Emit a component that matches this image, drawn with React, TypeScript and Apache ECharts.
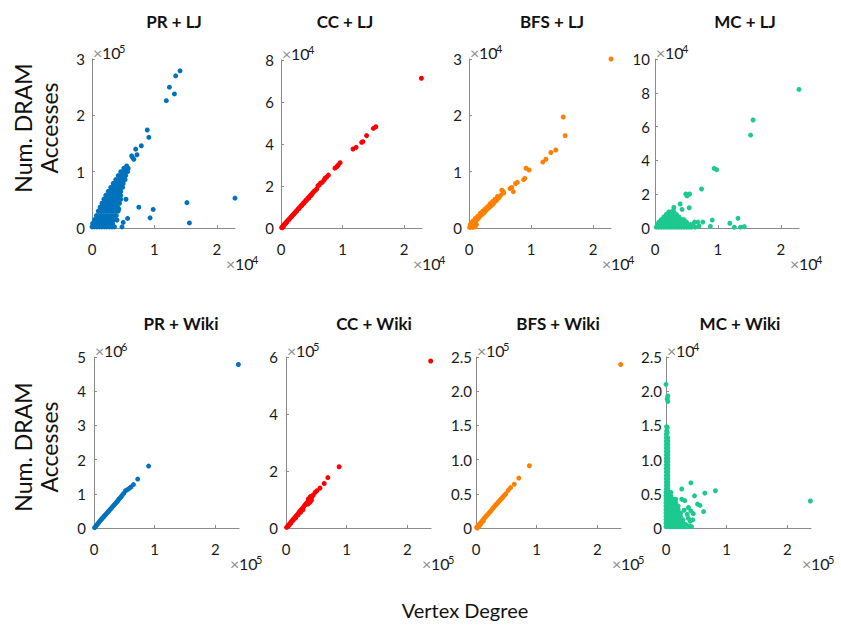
import React, { useEffect, useRef } from 'react';
import * as echarts from 'echarts';

const FONT = 'Lato, "Noto Sans", sans-serif';

const titles = ['PR + LJ', 'CC + LJ', 'BFS + LJ', 'MC + LJ', 'PR + Wiki', 'CC + Wiki', 'BFS + Wiki', 'MC + Wiki'];
const colors = ['#0072BD', '#FF0000', '#FF8000', '#1DC98E', '#0072BD', '#FF0000', '#FF8000', '#1DC98E'];
const xExp = [4, 4, 4, 4, 5, 5, 5, 5];
const yExp = [5, 4, 4, 4, 6, 5, 5, 4];
const xMax = [2.29, 2.29, 2.29, 2.29, 2.39, 2.39, 2.39, 2.39];
const xTicks = [0, 1, 2];
const yMax = [3, 8, 3, 10, 5, 6, 2.5, 2.5];
const yStep = [1, 2, 1, 2, 1, 2, 0.5, 0.5];
const yOneDecimal = [false, false, false, false, false, false, true, true];

// values in axis units (mantissa; multiply by 10^exp)
const prLj = [
  [1.41, 2.79], [1.34, 2.70], [1.24, 2.50], [1.32, 2.38], [1.19, 2.26], [0.885, 1.74], [0.91, 1.61], [0.79, 1.46],
  [0.70, 1.40], [0.72, 1.30], [0.635, 1.28], [0.65, 1.25], [0.67, 1.22],
  [2.29, 0.53], [1.52, 0.45], [1.56, 0.09], [0.98, 0.33], [0.93, 0.18], [0.75, 0.37], [0.57, 0.17], [0.544, 0.51],
  [0.43, 0.34], [0.40, 0.14], [0.50, 0.10], [0.48, 0.02],
  [0.00, 0.02], [0.04, 0.02], [0.08, 0.02], [0.12, 0.02], [0.16, 0.02], [0.20, 0.02], [0.24, 0.02], [0.28, 0.02], [0.32, 0.02], [0.36, 0.02],
  [0.01, 0.08], [0.05, 0.08], [0.09, 0.08], [0.13, 0.08], [0.17, 0.08], [0.21, 0.08], [0.25, 0.08], [0.29, 0.08], [0.33, 0.08],
  [0.04, 0.15], [0.08, 0.15], [0.12, 0.15], [0.16, 0.15], [0.20, 0.15], [0.24, 0.15], [0.28, 0.15], [0.32, 0.15], [0.36, 0.15],
  [0.07, 0.22], [0.11, 0.22], [0.15, 0.22], [0.19, 0.22], [0.23, 0.22], [0.27, 0.22], [0.31, 0.22], [0.35, 0.22], [0.39, 0.22],
  [0.10, 0.30], [0.14, 0.30], [0.18, 0.30], [0.22, 0.30], [0.26, 0.30], [0.30, 0.30], [0.34, 0.30], [0.38, 0.30], [0.42, 0.30],
  [0.13, 0.37], [0.17, 0.37], [0.21, 0.37], [0.25, 0.37], [0.29, 0.37], [0.33, 0.37], [0.37, 0.37], [0.41, 0.37],
  [0.16, 0.44], [0.20, 0.44], [0.24, 0.44], [0.28, 0.44], [0.32, 0.44], [0.36, 0.44], [0.40, 0.44], [0.44, 0.44],
  [0.19, 0.51], [0.23, 0.51], [0.27, 0.51], [0.31, 0.51], [0.35, 0.51], [0.39, 0.51], [0.43, 0.51], [0.46, 0.51],
  [0.22, 0.58], [0.26, 0.58], [0.30, 0.58], [0.34, 0.58], [0.38, 0.58], [0.42, 0.58], [0.46, 0.58],
  [0.26, 0.65], [0.30, 0.65], [0.34, 0.65], [0.38, 0.65], [0.42, 0.65], [0.46, 0.65],
  [0.30, 0.72], [0.34, 0.72], [0.38, 0.72], [0.42, 0.72], [0.46, 0.72], [0.49, 0.72],
  [0.34, 0.79], [0.38, 0.79], [0.42, 0.79], [0.46, 0.79], [0.50, 0.79],
  [0.38, 0.86], [0.42, 0.86], [0.46, 0.86], [0.50, 0.86], [0.53, 0.86],
  [0.42, 0.93], [0.46, 0.93], [0.50, 0.93], [0.54, 0.93],
  [0.46, 1.00], [0.50, 1.00], [0.54, 1.00], [0.57, 1.00],
  [0.51, 1.06], [0.55, 1.06], [0.58, 1.06], [0.555, 1.10],
];

const ccLj = [
  [2.28, 7.13], [1.54, 4.82], [1.50, 4.74], [1.39, 4.40], [1.33, 4.11], [1.31, 4.08], [1.22, 3.84], [1.17, 3.76],
  [0.96, 3.11], [0.93, 3.00], [0.91, 2.93], [0.876, 2.85], [0.77, 2.52], [0.74, 2.42], [0.715, 2.37], [0.70, 2.28],
  [0.67, 2.18], [0.64, 2.13], [0.62, 2.04], [0.60, 2.02],
  [0.01, 0.02], [0.02, 0.05], [0.04, 0.12], [0.06, 0.19], [0.08, 0.25], [0.10, 0.32], [0.12, 0.39], [0.14, 0.45],
  [0.16, 0.52], [0.18, 0.58], [0.20, 0.65], [0.22, 0.71], [0.24, 0.78], [0.26, 0.84], [0.28, 0.91], [0.30, 0.97],
  [0.32, 1.04], [0.34, 1.10], [0.36, 1.17], [0.38, 1.23], [0.40, 1.30], [0.42, 1.36], [0.44, 1.43], [0.46, 1.49],
  [0.48, 1.56], [0.50, 1.62], [0.52, 1.69], [0.54, 1.75], [0.56, 1.80], [0.58, 1.86],
  [0.03, 0.06], [0.05, 0.13], [0.09, 0.26], [0.13, 0.40], [0.17, 0.53], [0.21, 0.66], [0.25, 0.79], [0.29, 0.92],
  [0.33, 1.05], [0.37, 1.18], [0.41, 1.31], [0.45, 1.42], [0.49, 1.55], [0.02, 0.01], [0.04, 0.08],
];

const bfsLj = [
  [2.29, 3.00], [1.52, 1.97], [1.55, 1.64], [1.40, 1.385], [1.32, 1.34], [1.24, 1.22], [1.19, 1.17], [0.97, 1.03],
  [0.92, 1.06], [0.90, 0.88], [0.88, 0.86], [0.78, 0.81], [0.75, 0.79], [0.715, 0.645], [0.69, 0.72], [0.66, 0.70],
  [0.56, 0.62], [0.53, 0.67], [0.55, 0.65],
  [0.01, 0.01], [0.03, 0.02], [0.05, 0.04], [0.02, 0.06], [0.04, 0.09], [0.07, 0.07], [0.09, 0.10], [0.06, 0.12],
  [0.11, 0.12], [0.13, 0.15], [0.10, 0.17], [0.15, 0.17], [0.17, 0.20], [0.14, 0.21], [0.19, 0.22], [0.21, 0.24],
  [0.18, 0.26], [0.23, 0.26], [0.25, 0.28], [0.22, 0.30], [0.27, 0.31], [0.29, 0.33], [0.26, 0.34], [0.31, 0.35],
  [0.33, 0.37], [0.30, 0.38], [0.35, 0.39], [0.37, 0.41], [0.34, 0.43], [0.39, 0.43], [0.41, 0.46], [0.38, 0.47],
  [0.43, 0.48], [0.45, 0.50], [0.42, 0.51], [0.47, 0.53], [0.49, 0.55], [0.46, 0.56], [0.51, 0.58],
  [0.08, 0.03], [0.12, 0.06], [0.06, 0.01], [0.10, 0.02],
];

const mcLj = [
  [2.29, 8.20], [1.56, 6.39], [1.52, 5.50], [0.94, 3.53], [0.98, 3.45], [0.74, 2.31], [0.49, 2.01], [0.55, 2.01],
  [0.51, 1.90], [0.40, 1.42], [0.43, 1.10], [0.545, 1.20], [0.30, 1.22], [0.29, 1.02], [1.19, 0.28], [1.32, 0.57],
  [1.26, 0.05], [1.36, 0.05], [1.42, 0.08], [0.91, 0.47], [0.88, 0.10], [0.63, 0.35], [0.68, 0.35], [0.76, 0.35],
  [0.70, 0.12], [0.64, 0.05], [0.60, 0.20],
  [0.02, 0.05], [0.06, 0.05], [0.10, 0.05], [0.14, 0.05], [0.18, 0.05], [0.22, 0.05], [0.26, 0.05], [0.30, 0.05],
  [0.34, 0.05], [0.38, 0.05], [0.42, 0.05], [0.46, 0.05], [0.50, 0.05], [0.54, 0.05], [0.58, 0.05],
  [0.04, 0.20], [0.08, 0.20], [0.12, 0.20], [0.16, 0.20], [0.20, 0.20], [0.24, 0.20], [0.28, 0.20], [0.32, 0.20],
  [0.36, 0.20], [0.40, 0.20], [0.44, 0.20], [0.48, 0.20], [0.52, 0.20], [0.56, 0.20],
  [0.06, 0.35], [0.10, 0.35], [0.14, 0.35], [0.18, 0.35], [0.22, 0.35], [0.26, 0.35], [0.30, 0.35], [0.34, 0.35],
  [0.38, 0.35], [0.42, 0.35], [0.46, 0.35], [0.50, 0.35],
  [0.10, 0.50], [0.14, 0.50], [0.18, 0.50], [0.22, 0.50], [0.26, 0.50], [0.30, 0.50], [0.34, 0.50], [0.38, 0.50],
  [0.42, 0.50], [0.46, 0.50],
  [0.14, 0.65], [0.18, 0.65], [0.22, 0.65], [0.26, 0.65], [0.30, 0.65], [0.34, 0.65], [0.38, 0.65],
  [0.18, 0.80], [0.22, 0.80], [0.26, 0.80], [0.30, 0.80], [0.34, 0.80],
  [0.22, 0.95], [0.26, 0.95], [0.30, 0.95],
];

const prWiki = [
  [2.38, 4.78], [0.90, 1.81], [0.72, 1.43], [0.65, 1.27], [0.61, 1.20], [0.58, 1.16], [0.55, 1.12], [0.52, 1.09],
  [0.01, 0.01], [0.03, 0.05], [0.05, 0.10], [0.07, 0.14], [0.09, 0.19], [0.11, 0.23], [0.13, 0.27], [0.15, 0.31],
  [0.17, 0.35], [0.19, 0.39], [0.21, 0.43], [0.23, 0.47], [0.25, 0.51], [0.27, 0.55], [0.29, 0.59], [0.31, 0.63],
  [0.33, 0.67], [0.35, 0.71], [0.37, 0.75], [0.39, 0.79], [0.41, 0.84], [0.43, 0.88], [0.45, 0.92], [0.47, 0.97],
  [0.49, 1.01],
];

const ccWiki = [
  [2.385, 5.86], [0.876, 2.15], [0.69, 1.77], [0.63, 1.56], [0.56, 1.40], [0.51, 1.31], [0.48, 1.25],
  [0.01, 0.02], [0.03, 0.07], [0.05, 0.12], [0.07, 0.18], [0.09, 0.23], [0.11, 0.28], [0.13, 0.33], [0.15, 0.38],
  [0.17, 0.43], [0.19, 0.48], [0.21, 0.54], [0.23, 0.59], [0.25, 0.64], [0.27, 0.69], [0.29, 0.74], [0.31, 0.80],
  [0.33, 0.85], [0.35, 0.90], [0.37, 0.95], [0.39, 1.00], [0.41, 1.05], [0.43, 1.10], [0.45, 1.16],
  [0.36, 0.84], [0.38, 0.88], [0.40, 0.92], [0.42, 0.98], [0.37, 1.02], [0.40, 1.10],
  [0.05, 0.09], [0.08, 0.17], [0.12, 0.27], [0.16, 0.36], [0.20, 0.46], [0.24, 0.55], [0.28, 0.64],
];

const bfsWiki = [
  [2.385, 2.39], [0.88, 0.91], [0.705, 0.73], [0.63, 0.64], [0.57, 0.59], [0.53, 0.55],
  [0.01, 0.01], [0.03, 0.03], [0.05, 0.05], [0.07, 0.07], [0.09, 0.09], [0.11, 0.11], [0.13, 0.135], [0.15, 0.155],
  [0.17, 0.175], [0.19, 0.195], [0.21, 0.215], [0.23, 0.235], [0.25, 0.255], [0.27, 0.28], [0.29, 0.30], [0.31, 0.32],
  [0.33, 0.34], [0.35, 0.36], [0.37, 0.38], [0.39, 0.40], [0.41, 0.42], [0.43, 0.44], [0.45, 0.46], [0.47, 0.48],
  [0.49, 0.50], [0.04, 0.02], [0.06, 0.04], [0.02, 0.00], [0.08, 0.06], [0.12, 0.10],
];

const mcWiki = [
  [2.38, 0.395], [0.00, 2.10], [0.03, 1.93], [0.03, 1.85], [0.02, 1.89], [0.01, 1.48], [0.02, 1.47],
  [0.41, 0.66], [0.26, 0.57], [0.815, 0.545], [0.64, 0.51], [0.47, 0.47], [0.26, 0.42], [0.31, 0.40], [0.52, 0.35],
  [0.56, 0.33], [0.37, 0.30], [0.62, 0.24], [0.41, 0.25], [0.45, 0.21], [0.37, 0.14], [0.40, 0.10], [0.44, 0.12],
  [0.35, 0.20], [0.33, 0.05], [0.38, 0.03], [0.42, 0.02], [0.30, 0.26],
  [0.00, 0.02], [0.04, 0.02], [0.08, 0.02], [0.12, 0.02], [0.16, 0.02], [0.20, 0.02], [0.24, 0.02], [0.28, 0.02], [0.32, 0.02],
  [0.00, 0.07], [0.04, 0.07], [0.08, 0.07], [0.12, 0.07], [0.16, 0.07], [0.20, 0.07], [0.24, 0.07], [0.28, 0.07],
  [0.00, 0.12], [0.04, 0.12], [0.08, 0.12], [0.12, 0.12], [0.16, 0.12], [0.20, 0.12], [0.24, 0.12], [0.28, 0.12],
  [0.00, 0.17], [0.04, 0.17], [0.08, 0.17], [0.12, 0.17], [0.16, 0.17], [0.20, 0.17], [0.24, 0.17],
  [0.00, 0.22], [0.04, 0.22], [0.08, 0.22], [0.12, 0.22], [0.16, 0.22], [0.20, 0.22], [0.24, 0.22],
  [0.00, 0.27], [0.04, 0.27], [0.08, 0.27], [0.12, 0.27], [0.16, 0.27], [0.20, 0.27],
  [0.00, 0.32], [0.04, 0.32], [0.08, 0.32], [0.12, 0.32], [0.16, 0.32], [0.20, 0.32],
  [0.00, 0.37], [0.04, 0.37], [0.08, 0.37], [0.12, 0.37], [0.16, 0.37],
  [0.00, 0.42], [0.04, 0.42], [0.08, 0.42], [0.12, 0.42], [0.16, 0.42],
  [0.00, 0.47], [0.04, 0.47], [0.08, 0.47], [0.00, 0.52], [0.04, 0.52], [0.08, 0.52],
  [0.005, 0.57], [0.03, 0.57], [0.005, 0.62], [0.03, 0.62], [0.005, 0.67], [0.03, 0.67], [0.005, 0.72], [0.03, 0.72],
  [0.005, 0.77], [0.03, 0.77], [0.005, 0.82], [0.03, 0.82], [0.005, 0.87], [0.03, 0.87], [0.005, 0.92], [0.03, 0.92],
  [0.005, 0.97], [0.03, 0.97], [0.005, 1.02], [0.03, 1.02], [0.005, 1.07], [0.03, 1.07], [0.005, 1.12], [0.03, 1.12],
  [0.005, 1.17], [0.03, 1.17], [0.005, 1.22], [0.03, 1.22], [0.005, 1.27], [0.03, 1.27], [0.005, 1.32], [0.03, 1.32],
  [0.005, 1.37], [0.02, 1.40], [0.01, 1.42],
];

const panels = [prLj, ccLj, bfsLj, mcLj, prWiki, ccWiki, bfsWiki, mcWiki];

// layout (pixels)
const gridBoxes = [
  { left: 92, top: 59, width: 143, height: 169 },
  { left: 281, top: 60, width: 141, height: 168 },
  { left: 469, top: 59, width: 142, height: 169 },
  { left: 655, top: 59, width: 144, height: 169 },
  { left: 94, top: 357, width: 145, height: 171 },
  { left: 286, top: 357, width: 145, height: 171 },
  { left: 476, top: 357, width: 145, height: 171 },
  { left: 666, top: 357, width: 145, height: 171 },
];
const titlePos = [
  [174, 21], [345, 21], [552, 21], [745, 21],
  [181, 323], [374, 323], [558, 323], [740, 323],
];
const yLabelMargin = [7, 7, 7, 5, 8, 8, 4, 4];

const AXIS_GRAY = '#8a8a8a';

function expLabel(x: number, yBottom: number, exp: number): any[] {
  return [
    {
      type: 'text', x, y: yBottom,
      style: { text: '×', fontFamily: FONT, fontSize: 16, fill: '#8c8c8c', align: 'left', verticalAlign: 'bottom' },
    },
    {
      type: 'text', x: x + 9, y: yBottom,
      style: { text: '10', fontFamily: FONT, fontSize: 16, fill: '#1a1a1a', align: 'left', verticalAlign: 'bottom' },
    },
    {
      type: 'text', x: x + 26, y: yBottom - 6,
      style: { text: String(exp), fontFamily: FONT, fontSize: 11, fill: '#1a1a1a', align: 'left', verticalAlign: 'bottom' },
    },
  ];
}

export default function App() {
  const ref = useRef<HTMLDivElement>(null);
  useEffect(() => {
    if (!ref.current) return;
    const chart = echarts.init(ref.current, undefined, { renderer: 'svg' });

    const grid: any[] = [];
    const xAxis: any[] = [];
    const yAxis: any[] = [];
    const series: any[] = [];
    const graphic: any[] = [];

    panels.forEach((pts, i) => {
      const g = gridBoxes[i];
      const xu = Math.pow(10, xExp[i]);
      const yu = Math.pow(10, yExp[i]);
      grid.push({ left: g.left, top: g.top, width: g.width, height: g.height, containLabel: false });
      const tickVals = xTicks.map((t) => t * xu);
      xAxis.push({
        type: 'value',
        gridIndex: i,
        min: 0,
        max: xMax[i] * xu,
        interval: xu,
        splitLine: { show: false },
        axisLine: { show: true, onZero: false, lineStyle: { color: AXIS_GRAY, width: 1 } },
        axisTick: { show: true, inside: true, length: 3, lineStyle: { color: AXIS_GRAY }, customValues: tickVals },
        axisLabel: {
          show: true,
          margin: 13,
          customValues: tickVals,
          fontFamily: FONT,
          fontSize: 15,
          color: '#1a1a1a',
          formatter: (v: number) => {
            const r = v / xu;
            return Math.abs(r - Math.round(r)) < 1e-6 ? String(Math.round(r)) : '';
          },
        },
      });
      yAxis.push({
        type: 'value',
        gridIndex: i,
        min: 0,
        max: yMax[i] * yu,
        interval: yStep[i] * yu,
        splitLine: { show: false },
        axisLine: { show: true, onZero: false, lineStyle: { color: AXIS_GRAY, width: 1 } },
        axisTick: { show: true, inside: true, length: 3, lineStyle: { color: AXIS_GRAY } },
        axisLabel: {
          show: true,
          margin: yLabelMargin[i],
          fontFamily: FONT,
          fontSize: 15,
          color: '#1a1a1a',
          formatter: (v: number) => {
            const r = Math.round((v / yu) * 100) / 100;
            if (r === 0) return '0';
            return yOneDecimal[i] ? r.toFixed(1) : String(r);
          },
        },
      });
      series.push({
        type: 'scatter',
        xAxisIndex: i,
        yAxisIndex: i,
        symbol: 'circle',
        symbolSize: 5,
        silent: true,
        itemStyle: { color: colors[i], opacity: 1 },
        data: pts.map(([x, y]) => [x * xu, y * yu]),
      });
      graphic.push({
        type: 'text',
        x: titlePos[i][0],
        y: titlePos[i][1],
        style: {
          text: titles[i],
          fontFamily: FONT,
          fontWeight: 'bold',
          fontSize: 17,
          fill: '#111',
          align: 'center',
          verticalAlign: 'middle',
        },
      });
      graphic.push(...expLabel(g.left + 1, g.top + 1, yExp[i]));
      graphic.push(...expLabel(g.left + g.width - 9, g.top + g.height + 43, xExp[i]));
    });

    [128, 447].forEach((cy) => {
      graphic.push({
        type: 'text',
        x: 36,
        y: cy,
        rotation: Math.PI / 2,
        style: {
          text: 'Num. DRAM\nAccesses',
          fontFamily: FONT,
          fontSize: 23,
          lineHeight: 26,
          fill: '#111',
          align: 'center',
          verticalAlign: 'middle',
        },
      });
    });
    graphic.push({
      type: 'text',
      x: 465,
      y: 610,
      style: {
        text: 'Vertex Degree',
        fontFamily: FONT,
        fontSize: 20,
        fill: '#111',
        align: 'center',
        verticalAlign: 'middle',
      },
    });

    chart.setOption({
      animation: false,
      backgroundColor: '#ffffff',
      grid,
      xAxis,
      yAxis,
      series,
      graphic,
    });
    return () => chart.dispose();
  }, []);
  return (
    <div
      ref={ref}
      style={{ position: 'fixed', left: 0, top: 0, width: 841, height: 626, background: '#fff' }}
    />
  );
}
